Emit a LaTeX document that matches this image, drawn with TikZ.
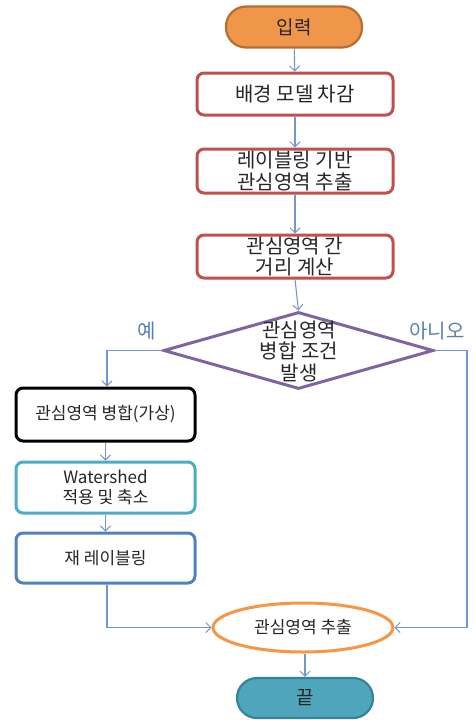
\documentclass[tikz,border=0pt]{standalone}
\usepackage{fontspec}
\setmainfont{Noto Sans CJK KR}
\usetikzlibrary{shapes.geometric,arrows.meta,positioning}
\definecolor{conn}{HTML}{7397C9}
\definecolor{redb}{HTML}{C0504D}
\definecolor{purp}{HTML}{8064A2}
\definecolor{cyanb}{HTML}{4BACC6}
\definecolor{blueb}{HTML}{4F81BD}
\definecolor{orab}{HTML}{F79646}
\definecolor{orafill}{HTML}{F0964A}
\definecolor{oradark}{HTML}{B66D31}
\definecolor{tealfill}{HTML}{4FA6BC}
\definecolor{tealdark}{HTML}{31849B}
\definecolor{lbl}{HTML}{5B80B0}
\definecolor{txt}{HTML}{262626}
\tikzset{
  every node/.style={text=txt, align=center, inner sep=0pt},
  box/.style={draw, rectangle, rounded corners=7pt, line width=3pt, minimum width=196pt, fill=white, font=\fontsize{20}{21.5}\selectfont},
  sbox/.style={draw, rectangle, rounded corners=7pt, line width=3pt, minimum width=179pt, fill=white, font=\fontsize{17}{20}\selectfont},
  pill/.style={draw, rectangle, rounded corners=20pt, line width=2.2pt, minimum width=136pt, minimum height=41pt, font=\fontsize{19}{21}\selectfont},
  conn/.style={draw=conn, line width=1.1pt, -{Straight Barb[length=5pt,width=10pt,line width=1pt]}},
  lab/.style={text=lbl, font=\fontsize{20}{22}\selectfont}
}
\begin{document}
\begin{tikzpicture}[x=1pt,y=-1pt]
\useasboundingbox (0,0) rectangle (474,720);
\node[pill, draw=oradark, fill=orafill] (in) at (294,27) {입력};
\node[box, draw=redb, minimum height=42pt] (b1) at (295,94) {배경 모델 차감};
\node[box, draw=redb, minimum height=44pt] (b2) at (295,171) {레이블링 기반\\관심영역 추출};
\node[box, draw=redb, minimum height=43pt] (b3) at (295,256.5) {관심영역 간\\거리 계산};
\node[diamond, draw=purp, line width=3pt, fill=white, minimum width=270pt, minimum height=77pt, aspect=3.5] (d) at (298.5,350.5) {};
\node[font=\fontsize{20}{21.5}\selectfont] (dt) at (299,351) {관심영역\\병합 조건\\발생};
\node[sbox, draw=black, minimum height=53pt] (m) at (105.5,414.5) {관심영역 병합(가상)};
\node[sbox, draw=cyanb, minimum height=51pt] (w) at (105.5,487.5) {Watershed\\적용 및 축소};
\node[sbox, draw=blueb, minimum height=50pt] (r) at (105.5,558) {재 레이블링};
\node[ellipse, draw=orab, line width=3pt, fill=white, minimum width=180pt, minimum height=49pt, font=\fontsize{17}{20}\selectfont] (e) at (303,627.5) {관심영역 추출};
\node[pill, draw=tealdark, fill=tealfill, minimum height=40pt] (end) at (305,698) {끝};
\coordinate (lc) at (107,350.5);
\coordinate (rc) at (467,350.5);
\coordinate (lb) at (107,627.5);
\coordinate (rb) at (467,627.5);
\draw[conn] (in) -- (b1);
\draw[conn] (b1) -- (b2);
\draw[conn] (b2) -- (b3);
\draw[conn] (b3.south) -- (d.north);
\draw[conn] (d.west) -- (lc) -- (m.north-|lc);
\draw[conn] (m) -- (w);
\draw[conn] (w) -- (r);
\draw[conn] (r.south-|lb) -- (lb) -- (e.west);
\draw[conn] (d.east) -- (rc) -- (rb) -- (e.east);
\draw[conn] (e.south-|end) -- (end.north);
\node[lab] (yes) at (147,331) {예};
\node[lab] (no) at (437,331) {아니오};
\end{tikzpicture}
\end{document}
